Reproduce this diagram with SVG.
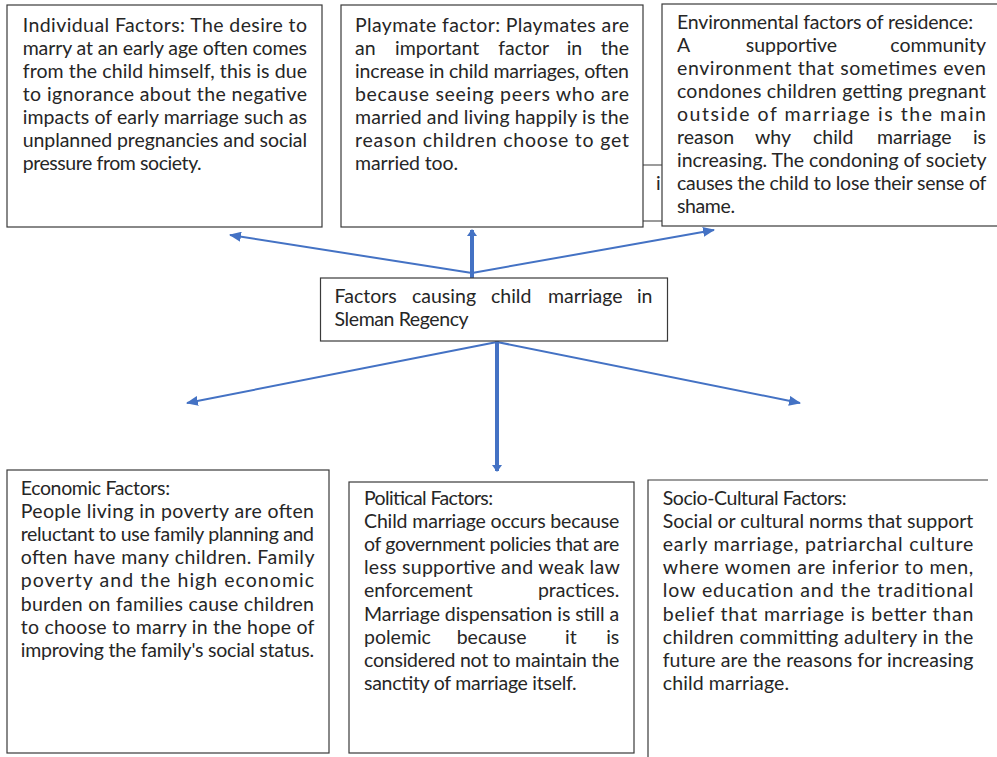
<svg xmlns="http://www.w3.org/2000/svg" width="997" height="757" viewBox="0 0 997 757">
<style>
.box{fill:#fff;stroke:#3a3a3a;stroke-width:1.2}
.edge{fill:none;stroke:#3a3a3a;stroke-width:1.2}
.t{font-family:Lato,"Liberation Sans",sans-serif;font-size:19.5px;fill:#262626}
.e{text-anchor:end}
.a{fill:none;stroke:#4472C4;stroke-width:2}
.ak{fill:none;stroke:#4472C4;stroke-width:4}
</style>
<defs>
<marker id="ah" markerUnits="userSpaceOnUse" markerWidth="12" markerHeight="10" refX="11" refY="5" orient="auto">
<path d="M0,0 L12,5 L0,10 z" fill="#4472C4"/>
</marker>
<marker id="ahk" markerUnits="userSpaceOnUse" markerWidth="7" markerHeight="10" refX="6" refY="5" orient="auto">
<path d="M0,0 L7,5 L0,10 z" fill="#4472C4"/>
</marker>
</defs>
<rect width="997" height="757" fill="#fff"/>

<g id="hidden-box">
<rect x="600" y="165" width="100" height="56" fill="#fff" stroke="none"/>
<path d="M600,165 H700" class="edge"/>
<path d="M600,221 H700" fill="none" stroke="#999" stroke-width="2"/>
<text class="t" x="656" y="189.5">i</text>
</g>

<g id="individual">
<rect class="box" x="7" y="5" width="315" height="222"/>
<text class="t">
<tspan x="22.7" y="31.5" textLength="284.3" lengthAdjust="spacing">Individual Factors: The desire to</tspan>
<tspan x="22.7" y="54.5" textLength="284.3" lengthAdjust="spacing">marry at an early age often comes</tspan>
<tspan x="22.7" y="77.5" textLength="284.3" lengthAdjust="spacing">from the child himself, this is due</tspan>
<tspan x="22.7" y="100.5" textLength="284.3" lengthAdjust="spacing">to ignorance about the negative</tspan>
<tspan x="22.7" y="123.5" textLength="284.3" lengthAdjust="spacing">impacts of early marriage such as</tspan>
<tspan x="22.7" y="146.5" textLength="284.3" lengthAdjust="spacing">unplanned pregnancies and social</tspan>
<tspan x="22.7" y="169.5" textLength="179" lengthAdjust="spacing">pressure from society.</tspan>
</text>
</g>

<g id="playmate">
<rect class="box" x="341" y="5" width="302" height="222"/>
<text class="t">
<tspan x="355" y="31.5" textLength="274" lengthAdjust="spacing">Playmate factor: Playmates are</tspan>
<tspan x="355" y="54.5">an</tspan><tspan x="395" y="54.5">important</tspan><tspan x="498.3" y="54.5">factor</tspan><tspan x="566.7" y="54.5">in</tspan>
<tspan x="355" y="77.5" textLength="274" lengthAdjust="spacing">increase in child marriages, often</tspan>
<tspan x="355" y="100.5" textLength="274" lengthAdjust="spacing">because seeing peers who are</tspan>
<tspan x="355" y="123.5" textLength="274" lengthAdjust="spacing">married and living happily is the</tspan>
<tspan x="355" y="146.5" textLength="274" lengthAdjust="spacing">reason children choose to get</tspan>
<tspan x="355" y="169.5" textLength="103" lengthAdjust="spacing">married too.</tspan>
</text>
<text class="t e" x="629" y="54.5">the</text>
</g>

<g id="environmental">
<rect class="box" x="662" y="4" width="345" height="222"/>
<text class="t">
<tspan x="677" y="28.5" textLength="296" lengthAdjust="spacing">Environmental factors of residence:</tspan>
<tspan x="677" y="51.5">A</tspan><tspan x="745.7" y="51.5">supportive</tspan>
<tspan x="677" y="74.5" textLength="309" lengthAdjust="spacing">environment that sometimes even</tspan>
<tspan x="677" y="97.5" textLength="309" lengthAdjust="spacing">condones children getting pregnant</tspan>
<tspan x="677" y="120.5" textLength="309" lengthAdjust="spacing">outside of marriage is the main</tspan>
<tspan x="677" y="143.5">reason</tspan><tspan x="755" y="143.5">why</tspan><tspan x="813" y="143.5">child</tspan><tspan x="877" y="143.5">marriage</tspan>
<tspan x="677" y="166.5" textLength="309" lengthAdjust="spacing">increasing. The condoning of society</tspan>
<tspan x="677" y="189.5" textLength="309" lengthAdjust="spacing">causes the child to lose their sense of</tspan>
<tspan x="677" y="212.5" textLength="58" lengthAdjust="spacing">shame.</tspan>
</text>
<text class="t e" x="986" y="51.5">community</text>
<text class="t e" x="986" y="143.5">is</text>
</g>

<g id="connectors">
<line class="a" x1="472" y1="273" x2="230" y2="235" marker-end="url(#ah)"/>
<line class="ak" x1="472" y1="278" x2="472" y2="230" marker-end="url(#ahk)"/>
<line class="a" x1="472" y1="273" x2="714" y2="230" marker-end="url(#ah)"/>
<line class="a" x1="497" y1="342" x2="187" y2="403" marker-end="url(#ah)"/>
<line class="ak" x1="497" y1="341" x2="497" y2="471" marker-end="url(#ahk)"/>
<line class="a" x1="497" y1="342" x2="800" y2="403" marker-end="url(#ah)"/>
</g>

<g id="central">
<rect class="box" x="320.5" y="278" width="347" height="63"/>
<text class="t">
<tspan x="334.6" y="302.5">Factors</tspan><tspan x="412" y="302.5">causing</tspan><tspan x="491" y="302.5">child</tspan><tspan x="548" y="302.5">marriage</tspan>
<tspan x="334.6" y="325.5" textLength="134" lengthAdjust="spacing">Sleman Regency</tspan>
</text>
<text class="t e" x="652.5" y="302.5">in</text>
</g>

<g id="economic">
<rect class="box" x="7" y="470" width="322" height="283"/>
<text class="t">
<tspan x="20.7" y="495" textLength="149.3" lengthAdjust="spacing">Economic Factors:</tspan>
<tspan x="20.7" y="518.1" textLength="293.3" lengthAdjust="spacing">People living in poverty are often</tspan>
<tspan x="20.7" y="541.2" textLength="293.3" lengthAdjust="spacing">reluctant to use family planning and</tspan>
<tspan x="20.7" y="564.3" textLength="293.3" lengthAdjust="spacing">often have many children. Family</tspan>
<tspan x="20.7" y="587.4" textLength="293.3" lengthAdjust="spacing">poverty and the high economic</tspan>
<tspan x="20.7" y="610.5" textLength="293.3" lengthAdjust="spacing">burden on families cause children</tspan>
<tspan x="20.7" y="633.6" textLength="293.3" lengthAdjust="spacing">to choose to marry in the hope of</tspan>
<tspan x="20.7" y="656.7" textLength="293.3" lengthAdjust="spacing">improving the family's social status.</tspan>
</text>
</g>

<g id="political">
<rect class="box" x="349" y="482" width="285" height="271"/>
<text class="t">
<tspan x="364" y="505" textLength="129" lengthAdjust="spacing">Political Factors:</tspan>
<tspan x="364" y="528.1" textLength="255.3" lengthAdjust="spacing">Child marriage occurs because</tspan>
<tspan x="364" y="551.2" textLength="255.3" lengthAdjust="spacing">of government policies that are</tspan>
<tspan x="364" y="574.3" textLength="255.3" lengthAdjust="spacing">less supportive and weak law</tspan>
<tspan x="364" y="597.4">enforcement</tspan>
<tspan x="364" y="620.5" textLength="255.3" lengthAdjust="spacing">Marriage dispensation is still a</tspan>
<tspan x="364" y="643.6">polemic</tspan><tspan x="456.7" y="643.6">because</tspan><tspan x="565" y="643.6">it</tspan>
<tspan x="364" y="666.7" textLength="255.3" lengthAdjust="spacing">considered not to maintain the</tspan>
<tspan x="364" y="689.8" textLength="212.7" lengthAdjust="spacing">sanctity of marriage itself.</tspan>
</text>
<text class="t e" x="619.3" y="597.4">practices.</text>
<text class="t e" x="619.3" y="643.6">is</text>
</g>

<g id="socio-cultural">
<path class="edge" d="M988,480 H648 V760"/>
<text class="t">
<tspan x="662.7" y="505" textLength="184" lengthAdjust="spacing">Socio-Cultural Factors:</tspan>
<tspan x="662.7" y="528.1" textLength="310.6" lengthAdjust="spacing">Social or cultural norms that support</tspan>
<tspan x="662.7" y="551.2" textLength="310.6" lengthAdjust="spacing">early marriage, patriarchal culture</tspan>
<tspan x="662.7" y="574.3" textLength="310.6" lengthAdjust="spacing">where women are inferior to men,</tspan>
<tspan x="662.7" y="597.4" textLength="310.6" lengthAdjust="spacing">low education and the traditional</tspan>
<tspan x="662.7" y="620.5" textLength="310.6" lengthAdjust="spacing">belief that marriage is better than</tspan>
<tspan x="662.7" y="643.6" textLength="310.6" lengthAdjust="spacing">children committing adultery in the</tspan>
<tspan x="662.7" y="666.7" textLength="310.6" lengthAdjust="spacing">future are the reasons for increasing</tspan>
<tspan x="662.7" y="689.8" textLength="126.3" lengthAdjust="spacing">child marriage.</tspan>
</text>
</g>
</svg>
